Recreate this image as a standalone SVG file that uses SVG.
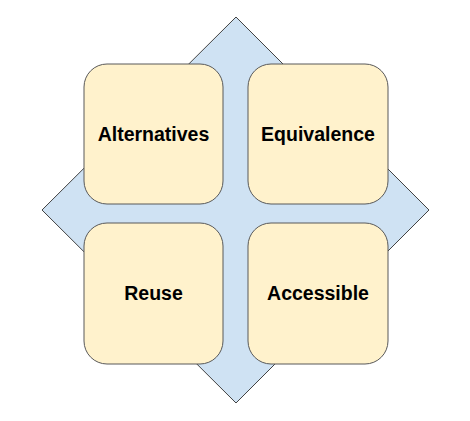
<svg xmlns="http://www.w3.org/2000/svg" width="470" height="421" viewBox="0 0 470 421">
<style>
.box{fill:#fff2cc;stroke:#595959;stroke-width:1}
.lbl{font-family:"Liberation Sans",Arial,sans-serif;font-weight:bold;font-size:19.5px;fill:#000;text-anchor:middle}
</style>
<rect width="470" height="421" fill="#fff"/>
<g id="diamond">
<polygon points="236,17 429,210 236,403 42,210" fill="#cfe2f3" stroke="#434343" stroke-width="1"/>
</g>
<g id="connectors"></g>
<g id="alternatives">
<rect class="box" x="84" y="64" width="139" height="140" rx="23" ry="23"/>
<text class="lbl" x="153.5" y="141">Alternatives</text>
</g>
<g id="equivalence">
<rect class="box" x="248" y="64" width="140" height="140" rx="23" ry="23"/>
<text class="lbl" x="318" y="141">Equivalence</text>
</g>
<g id="reuse">
<rect class="box" x="84" y="223" width="139" height="141" rx="23" ry="23"/>
<text class="lbl" x="153.5" y="300">Reuse</text>
</g>
<g id="accessible">
<rect class="box" x="248" y="223" width="140" height="141" rx="23" ry="23"/>
<text class="lbl" x="318" y="300">Accessible</text>
</g>
</svg>
